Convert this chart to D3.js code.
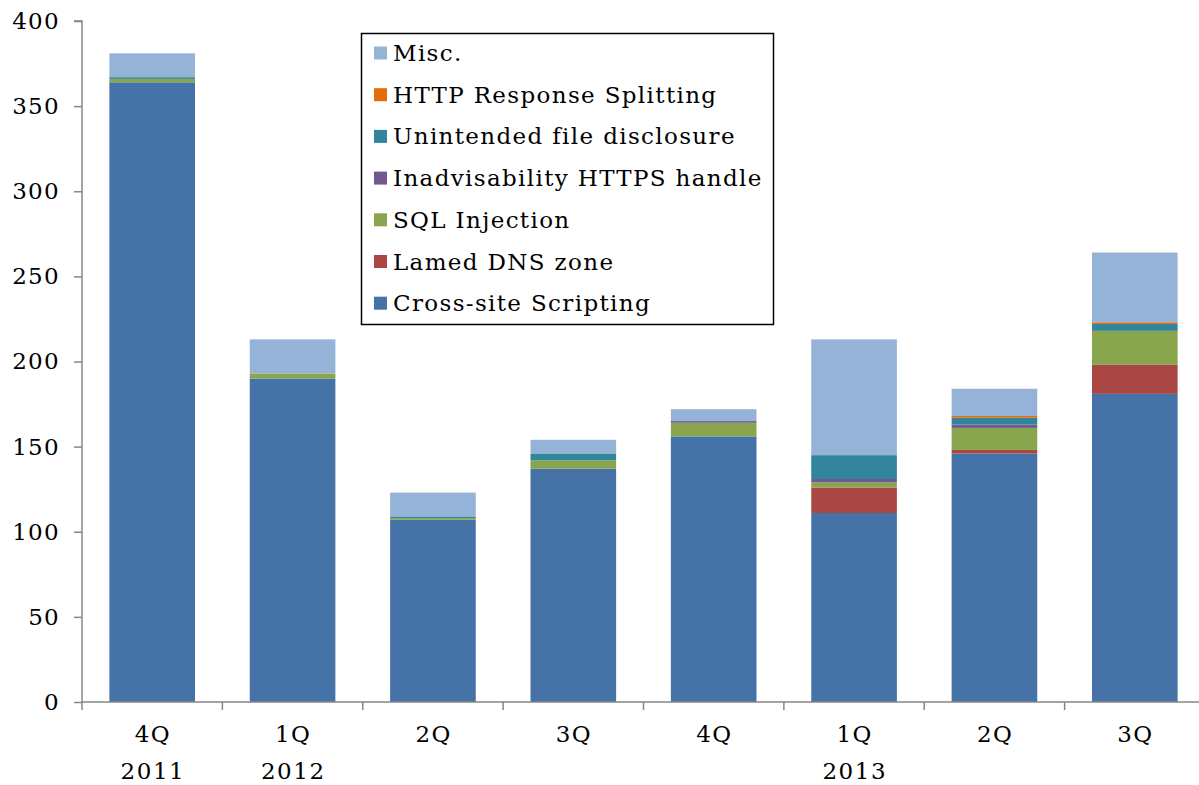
<!DOCTYPE html>
<html><head><meta charset="utf-8">
<script src="https://cdn.jsdelivr.net/npm/d3@7"></script>
<style>body{margin:0;background:#fff}svg{display:block}</style>
</head><body><svg id="c" width="1199" height="785"></svg>
<script>
const categories = ["4Q","1Q","2Q","3Q","4Q","1Q","2Q","3Q"];
const years = ["2011","2012","","","","2013","",""];
const seriesNames = ["Cross-site Scripting","Lamed DNS zone","SQL Injection","Inadvisability HTTPS handle","Unintended file disclosure","HTTP Response Splitting","Misc."];
const xss        = [364,190,107,137,156,111,146,181];
const dns        = [0,0,0,0,0,15,2,17];
const sql        = [2,3,1,5,8,3,13,20];
const https      = [0,0,0,0,1,2,2,0];
const unintended = [1,0,1,4,0,14,4,4];
const httpSplit  = [0,0,0,0,0,0,1,1];
const misc       = [14,20,14,8,7,68,16,41];
const yTicks = [0,50,100,150,200,250,300,350,400];
const colors = ["#4572A7","#AA4643","#89A54E","#71588F","#31859C","#E46C0A","#95B3D7"];

(function(){
const seriesVals = [xss,dns,sql,https,unintended,httpSplit,misc];
const data = categories.map((c,i)=>{const o={idx:i};seriesNames.forEach((s,j)=>o[s]=seriesVals[j][i]);return o;});
const stack = d3.stack().keys(seriesNames)(data);

const svg = d3.select("#c");
const font = "'DejaVu Serif', serif";
const pl = 82, pr = 1205, pt = 21, pb = 702;
const x = d3.scaleBand().domain(d3.range(categories.length)).range([pl,pr]).paddingInner(0.39).paddingOuter(0.195);
const y = d3.scaleLinear().domain([0,400]).range([pb,pt]);

svg.append("g").selectAll("g").data(stack).join("g").attr("fill",(d,i)=>colors[i])
  .selectAll("rect").data(d=>d).join("rect")
  .attr("x",d=>x(d.data.idx)).attr("width",x.bandwidth())
  .attr("y",d=>y(d[1])).attr("height",d=>Math.max(0,y(d[0])-y(d[1])));

const axisColor = "#868686";
const ya = svg.append("g").attr("transform",`translate(${pl},0)`)
  .call(d3.axisLeft(y).tickValues(yTicks).tickSize(8).tickPadding(14));
ya.select(".domain").attr("stroke",axisColor).attr("stroke-width",1.5).attr("d",`M-8,${pt}H0V${pb}`);
ya.selectAll(".tick line").attr("stroke",axisColor).attr("stroke-width",1.5);
ya.selectAll(".tick text").attr("font-family",font).attr("font-size",23).attr("fill","#000").attr("letter-spacing","1.3px");

const xb = d3.scaleLinear().domain([0,categories.length]).range([pl,pr]);
const xa = svg.append("g");
xa.append("line").attr("x1",pl).attr("x2",1199).attr("y1",pb).attr("y2",pb).attr("stroke",axisColor).attr("stroke-width",1.5);
xa.selectAll("line.t").data(d3.range(categories.length+1)).join("line").attr("class","t")
  .attr("x1",d=>xb(d)).attr("x2",d=>xb(d)).attr("y1",pb).attr("y2",pb+8).attr("stroke",axisColor).attr("stroke-width",1.5);
xa.selectAll("text.q").data(categories).join("text").attr("class","q")
  .attr("x",(d,i)=>x(i)+x.bandwidth()/2+0.6).attr("y",742).attr("text-anchor","middle")
  .attr("font-family",font).attr("font-size",23).attr("letter-spacing","1.3px").text(d=>d);
xa.selectAll("text.yr").data(years).join("text").attr("class","yr")
  .attr("x",(d,i)=>x(i)+x.bandwidth()/2+0.7).attr("y",779).attr("text-anchor","middle")
  .attr("font-family",font).attr("font-size",23).attr("letter-spacing","1.5px").text(d=>d);

const lg = svg.append("g");
lg.append("rect").attr("x",361.5).attr("y",33.5).attr("width",412).attr("height",291).attr("fill","#fff").attr("stroke","#000").attr("stroke-width",1.5);
const legendOrder = d3.range(seriesNames.length).reverse();
legendOrder.forEach((si,k)=>{
  const cy = 53 + k*41.7;
  lg.append("rect").attr("x",374).attr("y",cy-6.5).attr("width",13).attr("height",13).attr("fill",colors[si]);
  lg.append("text").attr("x",393).attr("y",cy+8).attr("font-family",font).attr("font-size",23)
    .attr("letter-spacing","1.35px").text(seriesNames[si]);
});
})();
</script></body></html>
